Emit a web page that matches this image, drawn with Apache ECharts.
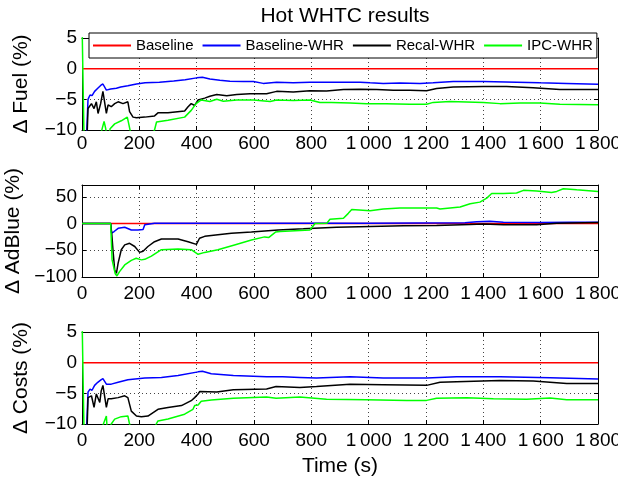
<!DOCTYPE html>
<html><head><meta charset="utf-8">
<script src="https://cdn.jsdelivr.net/npm/echarts@6/dist/echarts.min.js"></script>
<style>html,body{margin:0;padding:0;background:#fff}#c{width:618px;height:483px}</style>
</head><body><div id="c"></div>
<script>
// ---- data: [time (s), delta (%)] ----
const seriesNames = ['Baseline', 'Baseline-WHR', 'Recal-WHR', 'IPC-WHR'];
const xTicks = [0, 200, 400, 600, 800, 1000, 1200, 1400, 1600, 1800];

const fuelBaseline = [[0,0],[1800,0]];
const fuelBaselineWHR = [[0,-30],[15,-12],[21,-5.0],[28,-4.3],[35,-4.4],[44,-3.7],[55,-3.2],[66,-2.7],[73,-2.5],[79,-2.4],[85,-3.5],[100,-3.3],[120,-3.2],[135,-3.0],[160,-2.8],[190,-2.5],[220,-2.3],[270,-2.2],[320,-2.0],[360,-1.8],[400,-1.5],[420,-1.4],[446,-1.7],[481,-1.9],[516,-2.05],[563,-2.1],[598,-2.1],[632,-2.4],[679,-2.2],[737,-2.3],[795,-2.2],[853,-2.2],[912,-2.2],[970,-2.2],[1005,-2.3],[1051,-2.4],[1109,-2.35],[1179,-2.4],[1225,-2.3],[1295,-2.1],[1400,-2.1],[1516,-2.2],[1597,-2.3],[1690,-2.4],[1800,-2.55]];
const fuelRecalWHR = [[0,-30],[17,-12],[21,-6.5],[27,-6.2],[33,-5.7],[42,-6.5],[50,-5.4],[56,-7.3],[65,-5.7],[73,-3.7],[79,-4.0],[85,-7.3],[91,-5.9],[102,-6.2],[114,-5.7],[126,-5.4],[143,-5.7],[160,-5.4],[166,-7.0],[178,-7.9],[190,-8.0],[219,-7.9],[253,-7.7],[265,-7.2],[300,-7.2],[358,-6.9],[370,-6.2],[381,-5.7],[393,-6.0],[405,-5.1],[428,-4.8],[446,-4.5],[470,-4.2],[505,-4.4],[540,-4.2],[586,-4.1],[644,-4.1],[679,-3.7],[737,-3.8],[795,-3.6],[853,-3.65],[912,-3.4],[970,-3.35],[1028,-3.4],[1086,-3.5],[1144,-3.5],[1202,-3.6],[1237,-3.25],[1295,-3.0],[1400,-2.9],[1481,-2.9],[1574,-3.1],[1667,-3.4],[1800,-3.4]];
const fuelIPCWHR = [[0,8],[8,-14],[60,-14],[68,-10.2],[77,-8.6],[82,-9.6],[87,-11],[94,-11],[98,-9.8],[114,-9.0],[137,-8.5],[158,-7.9],[164,-9.2],[172,-11],[240,-11],[253,-10.0],[260,-8.7],[300,-8.4],[358,-7.9],[381,-6.8],[398,-5.7],[416,-5.1],[446,-5.35],[470,-5.0],[493,-5.3],[540,-5.1],[598,-5.1],[656,-5.35],[679,-5.1],[737,-5.2],[795,-5.1],[830,-5.5],[870,-5.5],[935,-5.6],[993,-5.7],[1060,-5.7],[1144,-5.8],[1202,-5.8],[1225,-5.5],[1283,-5.35],[1400,-5.5],[1458,-5.7],[1528,-5.6],[1597,-5.6],[1667,-5.8],[1800,-5.9]];

const adBaseline = [[0,0],[1800,0]];
const adBaselineWHR = [[0,0],[100,0],[103,-18],[112,-15],[126,-9],[149,-7],[172,-12],[195,-12],[213,-11],[219,-2.5],[253,0.5],[600,0.5],[1000,0.5],[1336,1.5],[1377,3.5],[1423,4],[1470,2.5],[1600,2],[1700,2.2],[1800,2.2]];
const adRecalWHR = [[0,0],[100,0],[104,-20],[108,-49],[114,-87],[120,-93],[126,-74],[137,-49],[149,-40],[166,-37],[184,-43],[201,-54],[213,-52],[230,-43],[253,-34],[277,-29],[335,-29],[370,-34],[399,-39],[410,-27.5],[428,-24],[474,-21],[521,-18],[591,-16],[684,-12],[772,-10],[888,-7],[1005,-5.6],[1121,-4.4],[1237,-3.75],[1354,-2],[1400,-1],[1470,-2.5],[1586,-2.5],[1656,0.6],[1800,2]];
const adIPCWHR = [[0,0],[100,0],[102,-3],[105,-68],[116,-94],[122,-98],[131,-90],[149,-77.5],[172,-69],[189,-65],[207,-68],[219,-67],[242,-61],[277,-49],[335,-47.5],[381,-49],[405,-57.5],[428,-54],[474,-49],[532,-40],[591,-31],[637,-25],[652,-26],[675,-16],[691,-15],[726,-14],[795,-12],[813,0],[854,0.6],[865,8],[912,10],[929,19],[941,26],[1005,24],[1051,27],[1109,29],[1179,29],[1237,29],[1249,27],[1284,29],[1319,31],[1354,37],[1388,40],[1412,47.5],[1429,56],[1470,56],[1516,57],[1540,62],[1586,61],[1638,58],[1656,60],[1679,65],[1726,63],[1800,60]];

const costBaseline = [[0,0],[1800,0]];
const costBaselineWHR = [[0,-30],[15,-12],[21,-4.8],[28,-4.3],[35,-4.5],[44,-3.7],[55,-3.2],[66,-2.8],[73,-2.6],[79,-2.5],[85,-3.5],[102,-3.5],[126,-3.2],[160,-2.8],[219,-2.5],[277,-2.4],[335,-2.1],[405,-1.5],[420,-1.4],[451,-1.8],[528,-2.1],[644,-2.3],[700,-2.3],[760,-2.4],[818,-2.5],[935,-2.3],[1051,-2.5],[1202,-2.5],[1307,-2.3],[1458,-2.3],[1633,-2.45],[1800,-2.65]];
const costRecalWHR = [[0,-30],[17,-12],[21,-5.7],[33,-5.4],[42,-7.3],[50,-5.1],[56,-5.4],[62,-6.5],[67,-4.6],[73,-3.7],[79,-4.0],[85,-7.3],[91,-5.9],[102,-5.9],[126,-5.7],[149,-5.4],[160,-5.7],[172,-7.9],[190,-8.7],[207,-8.8],[230,-8.7],[265,-7.6],[300,-7.3],[347,-7.0],[381,-6.2],[393,-5.7],[405,-5.1],[411,-4.7],[470,-4.8],[528,-4.4],[644,-4.3],[677,-3.9],[760,-4.05],[818,-3.9],[935,-3.5],[1051,-3.6],[1202,-3.7],[1249,-3.2],[1307,-3.1],[1458,-2.9],[1574,-3.0],[1691,-3.4],[1800,-3.4]];
const costIPCWHR = [[0,8],[8,-14],[65,-14],[73,-10.2],[85,-8.7],[88,-11],[98,-11],[102,-10],[114,-9.2],[137,-8.8],[160,-8.7],[165,-9.8],[172,-11],[250,-11],[259,-10],[265,-9.5],[300,-9.2],[358,-8.4],[387,-7.6],[393,-7.0],[405,-6.9],[416,-6.3],[451,-6.1],[528,-5.8],[644,-5.6],[677,-5.8],[760,-5.6],[853,-5.95],[993,-6.05],[1133,-6.15],[1202,-6.15],[1237,-5.8],[1342,-5.7],[1435,-5.9],[1551,-5.95],[1633,-5.75],[1691,-6.05],[1800,-6.05]];

const fuelTicks = [-10, -5, 0, 5];
const adTicks = [-100, -50, 0, 50];
const costTicks = [-10, -5, 0, 5];

// ---- chart ----
const FONT = 'Liberation Sans, Arial, Helvetica, sans-serif';
const colors = ['#ff0000', '#0000ff', '#000000', '#00ff00'];
const grids = [
  {left: 82, top: 38, width: 516, height: 92, outerBoundsMode: 'none', containLabel: false},
  {left: 82, top: 185, width: 516, height: 92, outerBoundsMode: 'none', containLabel: false},
  {left: 82, top: 332, width: 516, height: 92, outerBoundsMode: 'none', containLabel: false}
];
const yCfg = [
  {min: -10, max: 5, interval: 5, ticks: fuelTicks, name: '\u0394 Fuel (%)'},
  {min: -100, max: 72, interval: 50, ticks: adTicks, name: '\u0394 AdBlue (%)'},
  {min: -10, max: 5, interval: 5, ticks: costTicks, name: '\u0394 Costs (%)'}
];
const panels = [
  [fuelBaseline, fuelBaselineWHR, fuelRecalWHR, fuelIPCWHR],
  [adBaseline, adBaselineWHR, adRecalWHR, adIPCWHR],
  [costBaseline, costBaselineWHR, costRecalWHR, costIPCWHR]
];
const numFmt = v => {
  const a = Math.abs(v);
  let s = String(a);
  if (a >= 1000) s = s.replace(/(\d)(\d{3})$/, '$1\u2009$2');
  return (v < 0 ? '\u2212' : '') + s;
};
const dotted = {show: true, lineStyle: {color: '#444', type: [1, 3], width: 1}};
const xAxis = [], yAxis = [], series = [];
grids.forEach((g, i) => {
  const xb = {
    type: 'value', gridIndex: i, min: 0, max: 1800, interval: 200,
    axisLine: {show: true, onZero: false, lineStyle: {color: '#000', width: 1}},
    axisTick: {show: true, inside: true, length: 4, lineStyle: {color: '#000'}},
  };
  xAxis.push(Object.assign({}, xb, {
    position: 'bottom',
    axisLabel: {show: true, margin: i === 0 ? 4 : 7, color: '#000', fontSize: 19, fontFamily: FONT,
      showMinLabel: true, showMaxLabel: true,
      formatter: v => xTicks.includes(v) ? numFmt(v) : ''},
    splitLine: dotted,
    name: i === 2 ? 'Time (s)' : '', nameLocation: 'middle', nameGap: 32,
    nameTextStyle: {color: '#000', fontSize: 21, fontFamily: FONT}
  }));
  xAxis.push(Object.assign({}, xb, {position: 'top', axisLabel: {show: false}, splitLine: {show: false}}));
  const c = yCfg[i];
  const yb = {
    type: 'value', gridIndex: i, min: c.min, max: c.max, interval: c.interval,
    axisLine: {show: true, onZero: false, lineStyle: {color: '#000', width: 1}},
    axisTick: {show: true, inside: true, length: 4, lineStyle: {color: '#000'}},
  };
  yAxis.push(Object.assign({}, yb, {
    position: 'left',
    axisLabel: {show: true, margin: 5, color: '#000', fontSize: 19, fontFamily: FONT,
      showMinLabel: true, showMaxLabel: true,
      formatter: v => c.ticks.includes(v) ? numFmt(v) : ''},
    splitLine: dotted,
    name: c.name, nameLocation: 'middle', nameGap: 50,
    nameTextStyle: {color: '#000', fontSize: 21, fontFamily: FONT}
  }));
  yAxis.push(Object.assign({}, yb, {position: 'right', axisLabel: {show: false}, splitLine: {show: false}}));
  panels[i].forEach((d, k) => {
    series.push({
      type: 'line', name: seriesNames[k], xAxisIndex: 2 * i, yAxisIndex: 2 * i,
      data: d, symbol: 'none', showSymbol: false, clip: true, animation: false,
      lineStyle: {color: colors[k], width: 1.5}, itemStyle: {color: colors[k]}, z: 3 + k
    });
  });
});

const chart = echarts.init(document.getElementById('c'), null, {renderer: 'canvas'});
chart.setOption({
  animation: false,
  backgroundColor: '#fff',
  title: {text: 'Hot WHTC results', left: 340, top: 1, textAlign: 'center',
    textStyle: {color: '#000', fontSize: 21, fontWeight: 'normal', fontFamily: FONT}},
  legend: {
    data: seriesNames, left: 89, top: 33, orient: 'horizontal',
    itemWidth: 38, itemHeight: 14, itemGap: 8,
    padding: [5, 4, 5, 3],
    backgroundColor: '#fff', borderColor: '#000', borderWidth: 1,
    itemStyle: {opacity: 0},
    textStyle: {color: '#000', fontSize: 15, fontFamily: FONT},
    z: 10
  },
  grid: grids,
  xAxis: xAxis,
  yAxis: yAxis,
  series: series
});
</script>
</body></html>
